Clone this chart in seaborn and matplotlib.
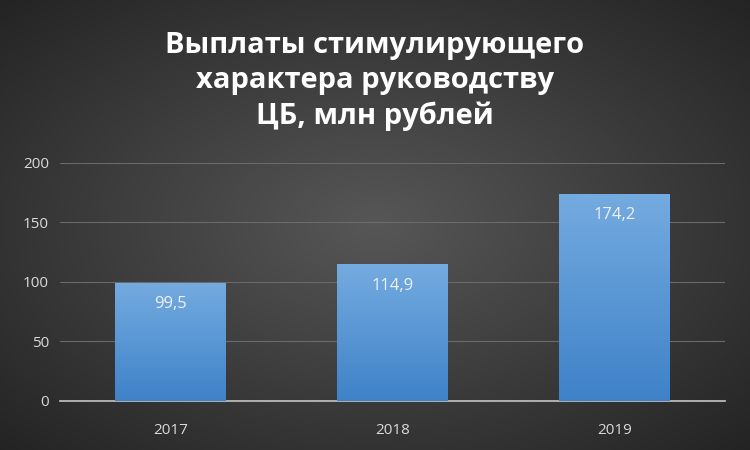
import numpy as np
import pandas as pd
import matplotlib
matplotlib.use("Agg")
import matplotlib.pyplot as plt
import seaborn as sns
from matplotlib.colors import LinearSegmentedColormap

years = ["2017", "2018", "2019"]
values = [99.5, 114.9, 174.2]
labels = ["99,5", "114,9", "174,2"]
title = "Выплаты стимулирующего\nхарактера руководству\nЦБ, млн рублей"

sns.set_theme(style="white")
plt.rcParams['font.family'] = ['Open Sans', 'DejaVu Sans']

fig = plt.figure(figsize=(7.5, 4.5), dpi=100)
bg = fig.add_axes([0, 0, 1, 1], zorder=-10)
yy, xx = np.mgrid[-1:1:300j, -1:1:500j]
r = np.sqrt(xx**2 + yy**2) / np.sqrt(2)
shade = 0.34 - 0.2 * r
bg.imshow(np.dstack([shade]*3), aspect="auto", extent=[0, 1, 0, 1])
bg.axis("off")

ax = fig.add_axes([0.08, 0.109, 0.887, 0.529])
ax.patch.set_alpha(0)
df = pd.DataFrame({"year": years, "value": values})
sns.barplot(data=df, x="year", y="value", ax=ax, width=0.5, color="#5b9bd5",
            edgecolor="none", linewidth=0, zorder=3)
grad = np.linspace(0, 1, 100).reshape(-1, 1)
cmap = LinearSegmentedColormap.from_list("b", ["#3f82c8", "#74abe0"])
for p in ax.patches:
    x0, w, h = p.get_x(), p.get_width(), p.get_height()
    im = ax.imshow(grad, cmap=cmap, origin="lower", aspect="auto",
                   extent=[x0, x0 + w, 0, h], zorder=4)
    im.set_clip_path(p)
for i, (v, t) in enumerate(zip(values, labels)):
    ax.text(i, v - 18, t, ha="center", va="center", color="#f0f0f0", fontsize=12, zorder=5)
ax.set_xlim(-0.5, 2.5)
ax.set_ylim(0, 200)
ax.set_yticks([0, 50, 100, 150, 200])
ax.yaxis.grid(True, color="#6a6a6a", lw=0.8, zorder=0)
ax.set_axisbelow(True)
for s in ["top", "right", "left"]:
    ax.spines[s].set_visible(False)
ax.spines["bottom"].set_color("#bfbfbf")
ax.tick_params(colors="#d9d9d9", labelsize=11, length=0)
ax.tick_params(axis="x", pad=16)
ax.tick_params(axis="y", pad=8)
ax.set_xlabel("")
ax.set_ylabel("")
fig.text(0.5, 0.82, title, ha="center", va="center", color="white",
         fontsize=21, fontweight="bold", linespacing=1.3)
fig.savefig("out.png", dpi=100)
